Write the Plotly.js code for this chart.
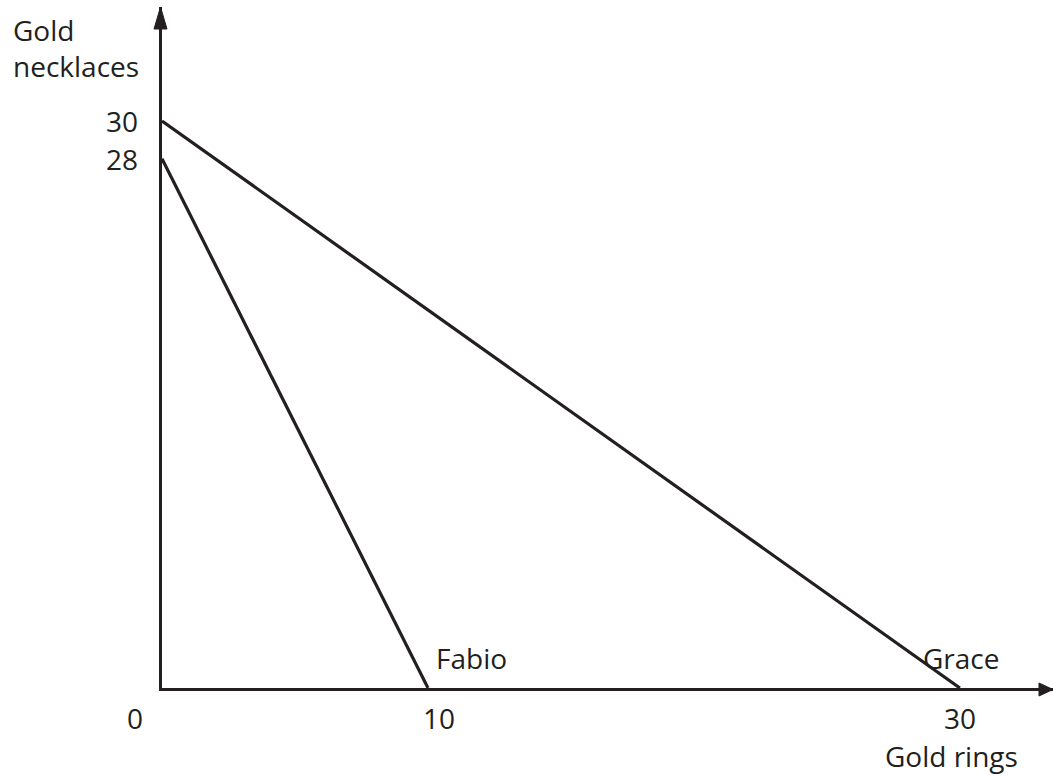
<!DOCTYPE html>
<html>
<head>
<meta charset="utf-8">
<script src="https://cdn.plot.ly/plotly-3.0.1.min.js"></script>
<style>
  html, body { margin: 0; padding: 0; background: #fff; }
  #chart { width: 1053px; height: 776px; }
</style>
</head>
<body>
<div id="chart"></div>
<script>
// production possibility frontiers (gold rings, gold necklaces)
const names = ["Fabio", "Grace"];
const ringsMax = [10, 30];
const necklacesMax = [28, 30];
const xTickVals = [0, 10, 30];
const yTickVals = [28, 30];

const ink = "#231f20";
const font = { family: "Open Sans, Noto Sans, sans-serif", size: 28, color: ink };

const xEnd = 33.5;
const yEnd = 36.03;

const traces = names.map((n, i) => ({
  x: [0, ringsMax[i]],
  y: [necklacesMax[i], 0],
  type: "scatter",
  mode: "lines",
  name: n,
  line: { color: ink, width: 3.2 },
  hoverinfo: "skip",
  cliponaxis: false
}));

const annotations = [];
// y tick labels
yTickVals.forEach(v => annotations.push({
  x: 0, y: v, xref: "x", yref: "y", text: String(v), showarrow: false,
  xanchor: "right", yanchor: "middle", xshift: -22, font
}));
// x tick labels (0 sits left of the origin)
const xShift = { 0: -27, 10: 11, 30: 0 };
xTickVals.forEach(v => annotations.push({
  x: v, y: 0, xref: "x", yref: "y", text: String(v), showarrow: false,
  xanchor: "center", yanchor: "middle", yshift: -30, xshift: xShift[v], font
}));
// line labels
annotations.push({ x: ringsMax[0], y: 0, xref: "x", yref: "y", text: names[0], showarrow: false,
  xanchor: "left", yanchor: "middle", xshift: 6, yshift: 30, font });
annotations.push({ x: ringsMax[1], y: 0, xref: "x", yref: "y", text: names[1], showarrow: false,
  xanchor: "right", yanchor: "middle", xshift: 42, yshift: 30, font });
// axis titles
annotations.push({ x: 0, y: 1, xref: "paper", yref: "paper", text: "Gold<br>necklaces",
  showarrow: false, xanchor: "left", yanchor: "top", align: "left", xshift: -151, yshift: -2, font });
annotations.push({ x: 30, y: 0, xref: "x", yref: "y", text: "Gold rings", showarrow: false,
  xanchor: "center", yanchor: "middle", xshift: -8, yshift: -68, font });

// arrowheads on the axes (paper-referenced so they are not clipped)
const shapes = [
  { type: "path", xref: "paper", yref: "paper", xsizemode: "pixel", ysizemode: "pixel",
    xanchor: 0, yanchor: 1, path: "M-8,-22 L5,-22 L-1.5,0 Z",
    fillcolor: ink, line: { color: ink, width: 1 } },
  { type: "path", xref: "paper", yref: "paper", xsizemode: "pixel", ysizemode: "pixel",
    xanchor: 1, yanchor: 0, path: "M-14,-8 L-14,5 L0,-1.5 Z",
    fillcolor: ink, line: { color: ink, width: 1 } }
];

const layout = {
  width: 1053,
  height: 776,
  margin: { l: 162, r: 0, t: 7, b: 88 },
  paper_bgcolor: "#fff",
  plot_bgcolor: "#fff",
  showlegend: false,
  xaxis: {
    range: [0, xEnd], showgrid: false, zeroline: false, showticklabels: false, ticks: "",
    showline: true, linecolor: ink, linewidth: 3, fixedrange: true
  },
  yaxis: {
    range: [0, yEnd], showgrid: false, zeroline: false, showticklabels: false, ticks: "",
    showline: true, linecolor: ink, linewidth: 3, fixedrange: true
  },
  annotations,
  shapes
};

Plotly.newPlot("chart", traces, layout, { displayModeBar: false, staticPlot: true });
</script>
</body>
</html>
